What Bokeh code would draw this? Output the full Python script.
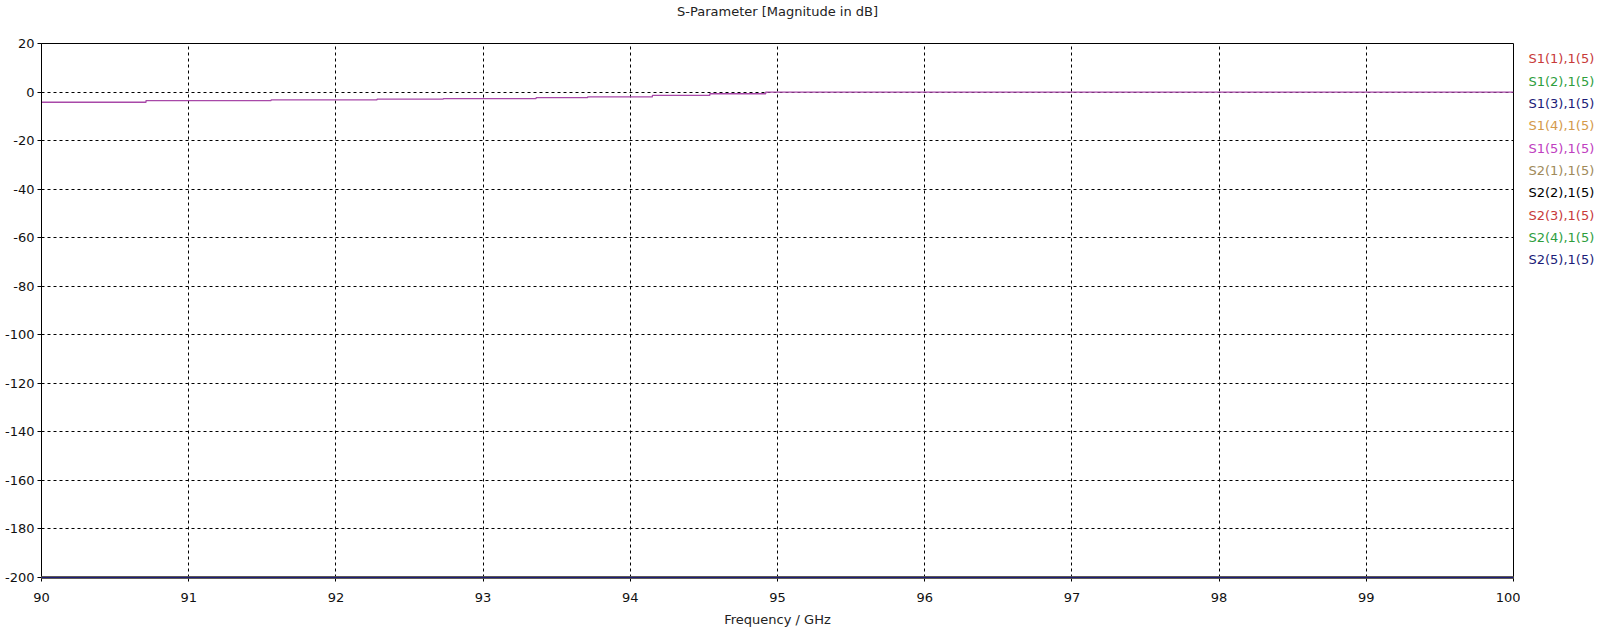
from bokeh.plotting import figure
from bokeh.models import Range1d, FixedTicker, ColumnDataSource
from bokeh.layouts import row, column
from bokeh.core.properties import value
from bokeh.embed import file_html
from bokeh.resources import INLINE

# ---- data ----
title_text = "S-Parameter [Magnitude in dB]"
x_label = "Frequency / GHz"
series_names = ["S1(1),1(5)", "S1(2),1(5)", "S1(3),1(5)", "S1(4),1(5)", "S1(5),1(5)",
                "S2(1),1(5)", "S2(2),1(5)", "S2(3),1(5)", "S2(4),1(5)", "S2(5),1(5)"]
series_colors = ["#c83a3a", "#2e9e3e", "#1c1c78", "#d49a4a", "#c040c0",
                 "#a08a5a", "#000000", "#c83a3a", "#2e9e3e", "#1c1c78"]

# S1(5),1(5) magnitude in dB (step-like)
s15_freq = [90.0, 90.71, 91.56, 92.28, 92.73, 93.36, 93.71, 94.15, 94.54, 94.92, 100.0]
s15_db = [-4.2, -3.5, -3.2, -2.9, -2.7, -2.3, -2.0, -1.4, -0.7, 0.0, 0.0]

# all other traces lie at the bottom of the scale
floor_freq = [90.0, 100.0]
floor_db = [-200.0, -200.0]

x_ticks = [90, 91, 92, 93, 94, 95, 96, 97, 98, 99, 100]
y_ticks = [20, 0, -20, -40, -60, -80, -100, -120, -140, -160, -180, -200]

FONT = "DejaVu Sans"
H_TOTAL = 630
TITLE_H = 22
H = H_TOTAL - TITLE_H
MAIN_W = 1520
LEG_W = 80
TOTAL_W = MAIN_W + LEG_W
FRAME_LEFT, FRAME_RIGHT = 41, 1513
FRAME_TOP, FRAME_BOTTOM = 43, 577   # page pixels

# ---- title strip ----
tf = figure(width=TOTAL_W, height=TITLE_H, output_backend="svg", toolbar_location=None,
            x_range=Range1d(90, 100), y_range=Range1d(0, TITLE_H),
            x_axis_type=None, y_axis_type=None,
            min_border_left=FRAME_LEFT, min_border_right=TOTAL_W - FRAME_RIGHT,
            min_border_top=0, min_border_bottom=0)
tf.outline_line_color = None
tf.grid.visible = False
tf.text(x=[95], y=[TITLE_H - 11], text=[title_text], text_color="#222222",
        text_font=value(FONT), text_font_size="13px",
        text_align="center", text_baseline="middle")

# ---- main plot ----
p = figure(width=MAIN_W, height=H, output_backend="svg", toolbar_location=None,
           x_range=tf.x_range, y_range=Range1d(-200, 20),
           min_border_left=FRAME_LEFT, min_border_right=MAIN_W - FRAME_RIGHT,
           min_border_top=FRAME_TOP - TITLE_H, min_border_bottom=H_TOTAL - FRAME_BOTTOM)
p.background_fill_color = "white"
p.border_fill_color = "white"
p.outline_line_color = "black"
p.outline_line_width = 1

for ax in (p.xaxis[0], p.yaxis[0]):
    ax.axis_line_color = "black"
    ax.major_tick_line_color = "black"
    ax.major_tick_out = 4
    ax.major_tick_in = 0
    ax.minor_tick_line_color = None
    ax.major_label_text_font = FONT
    ax.major_label_text_font_size = "13px"
    ax.major_label_text_color = "#111111"

p.xaxis[0].ticker = FixedTicker(ticks=x_ticks)
p.yaxis[0].ticker = FixedTicker(ticks=y_ticks)
p.yaxis[0].major_label_overrides = {t: str(t) for t in y_ticks}
p.xaxis[0].major_label_standoff = 11
p.yaxis[0].major_label_standoff = 3
p.xaxis[0].axis_label = x_label
p.xaxis[0].axis_label_text_font = FONT
p.xaxis[0].axis_label_text_font_size = "13px"
p.xaxis[0].axis_label_text_font_style = "normal"
p.xaxis[0].axis_label_text_color = "#222222"
p.xaxis[0].axis_label_standoff = 7

for g in (p.xgrid[0], p.ygrid[0]):
    g.grid_line_color = "black"
    g.grid_line_dash = "3 3"
    g.grid_line_width = 1
p.xgrid[0].ticker = FixedTicker(ticks=x_ticks)
p.ygrid[0].ticker = FixedTicker(ticks=y_ticks)

# traces
for name, col in zip(series_names, series_colors):
    if name == "S1(5),1(5)":
        continue
    p.line(floor_freq, floor_db, line_color=col, line_width=1.6, level="overlay")
p.step(s15_freq, s15_db, mode="after", line_color="#a848a8", line_width=1.3)

# ---- legend: coloured texts in a narrow companion panel ----
# its frame is aligned with the main frame; y data units = page pixels from the bottom
leg = figure(width=LEG_W, height=H, output_backend="svg", toolbar_location=None,
             x_range=Range1d(0, LEG_W),
             y_range=Range1d(H_TOTAL - FRAME_BOTTOM, H_TOTAL - FRAME_TOP),
             x_axis_type=None, y_axis_type=None,
             min_border_left=0, min_border_right=0,
             min_border_top=FRAME_TOP - TITLE_H, min_border_bottom=H_TOTAL - FRAME_BOTTOM)
leg.outline_line_color = None
leg.grid.visible = False
leg.background_fill_color = "white"
leg.border_fill_color = "white"
first_y, step_y = 58.4, 22.3
leg_src = ColumnDataSource(dict(
    x=[8] * len(series_names),
    y=[H_TOTAL - (first_y + step_y * i) for i in range(len(series_names))],
    text=series_names,
    color=series_colors,
))
leg.text(x="x", y="y", text="text", text_color="color", source=leg_src,
         text_font=value(FONT), text_font_size="13px",
         text_baseline="middle", text_align="left")

layout = column(tf, row(p, leg, spacing=0), spacing=0)
open("out.html", "w").write(file_html(layout, INLINE))
